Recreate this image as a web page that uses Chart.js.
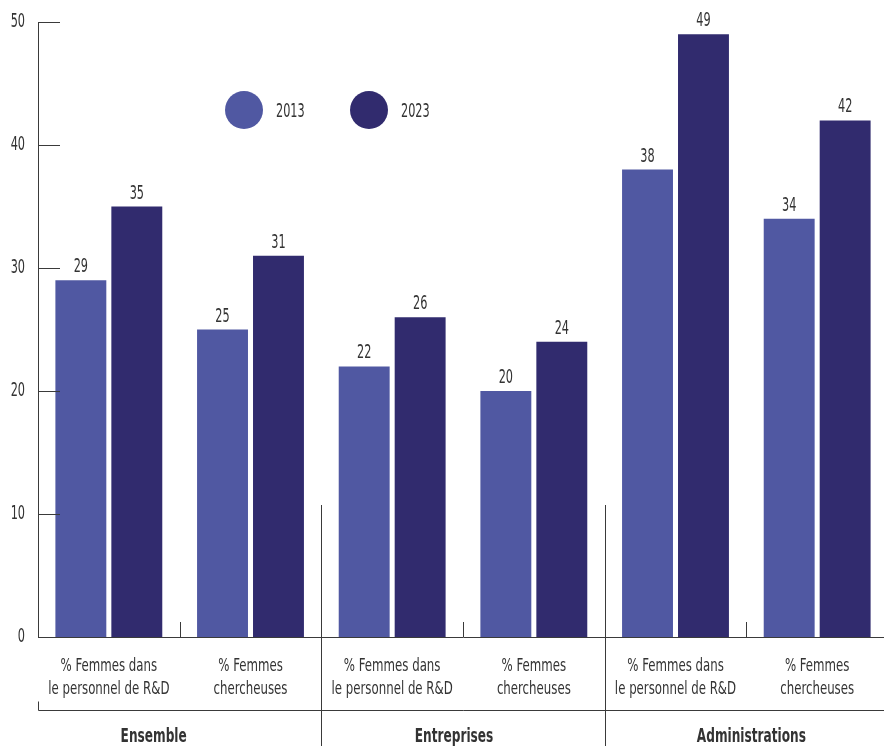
<!DOCTYPE html>
<html><head><meta charset="utf-8">
<script src="https://cdn.jsdelivr.net/npm/chart.js@4/dist/chart.umd.min.js"></script>
<style>html,body{margin:0;padding:0;background:#fff;overflow:hidden;width:884px;height:746px}#wrap{width:888px;height:746px;position:relative}</style>
</head><body><div id="wrap"><canvas id="c"></canvas></div>
<script>
const categories = [
  ["% Femmes dans","le personnel de R&D"],["% Femmes","chercheuses"],
  ["% Femmes dans","le personnel de R&D"],["% Femmes","chercheuses"],
  ["% Femmes dans","le personnel de R&D"],["% Femmes","chercheuses"]
];
const groups = ["Ensemble","Entreprises","Administrations"];
const seriesNames = ["2013","2023"];
const values2013 = [29,25,22,20,38,34];
const values2023 = [35,31,26,24,49,42];
const yTicks = [0,10,20,30,40,50];

const FONT = "'DejaVu Sans Condensed','DejaVu Sans',sans-serif";
const TXT = '#333';
const LINE = '#3a3a3a';
const colors = ['#5058a2','#312b6e'];
const groupLabelShift = [-26, -9, 5];

// condensed rendering of canvas text (the original uses a narrow DIN-like face)
function condense(ctx){
  if (ctx.__condensed) return;
  ctx.__condensed = true;
  const orig = ctx.fillText;
  ctx.fillText = function(t, x, y, mw){
    const s = String(t);
    let sx = 0.77;
    if (/^\d+$/.test(s)) sx = 0.66;
    else if (/bold/.test(this.font)) sx = 0.71;
    this.save();
    this.translate(x, y);
    this.scale(sx, 1);
    if (mw === undefined) orig.call(this, s, 0, 0); else orig.call(this, s, 0, 0, mw / sx);
    this.restore();
  };
}

const decor = {
  id:'decor',
  beforeDraw(chart){ condense(chart.ctx); },
  afterDraw(chart){
    const ctx = chart.ctx, x = chart.scales.x, y = chart.scales.y, ca = chart.chartArea;
    const H = chart.height, W = chart.width;
    ctx.save();
    ctx.strokeStyle = LINE; ctx.lineWidth = 1;
    // inward y ticks
    yTicks.forEach(v=>{
      const py = Math.round(y.getPixelForValue(v))+0.5;
      ctx.beginPath(); ctx.moveTo(ca.left, py); ctx.lineTo(ca.left+22, py); ctx.stroke();
    });
    const bound = i => (x.getPixelForValue(i)+x.getPixelForValue(i+1))/2;
    // small ticks within group
    for (let g=0; g<groups.length; g++){
      const px = Math.round(bound(g*2))+0.5;
      ctx.beginPath(); ctx.moveTo(px, ca.bottom-15); ctx.lineTo(px, ca.bottom); ctx.stroke();
    }
    // group separators
    for (let g=1; g<groups.length; g++){
      const px = Math.round(bound(g*2-1))+0.5;
      ctx.beginPath(); ctx.moveTo(px, ca.bottom-132); ctx.lineTo(px, H); ctx.stroke();
    }
    // lower line
    const ly = ca.bottom + 73.5;
    ctx.beginPath(); ctx.moveTo(ca.left+0.5, ly-9); ctx.lineTo(ca.left+0.5, ly); ctx.lineTo(W, ly); ctx.stroke();
    // group labels
    ctx.fillStyle = TXT; ctx.textAlign='center'; ctx.textBaseline='alphabetic';
    ctx.font = "bold 19px " + FONT;
    groups.forEach((g,i)=>{
      const cx = (x.getPixelForValue(i*2)+x.getPixelForValue(i*2+1))/2 + groupLabelShift[i];
      ctx.fillText(g, cx, ca.bottom+105);
    });
    // value labels
    ctx.font = "19px " + FONT; ctx.textBaseline='alphabetic';
    chart.data.datasets.forEach((ds,di)=>{
      const meta = chart.getDatasetMeta(di);
      meta.data.forEach((bar,i)=>{
        ctx.fillText(String(ds.data[i]), bar.x, bar.y-8);
      });
    });
    // legend
    const legX = [244, 369], legY = 110;
    ctx.font = "19px " + FONT; ctx.textAlign='left'; ctx.textBaseline='alphabetic';
    chart.data.datasets.forEach((ds,di)=>{
      ctx.fillStyle = ds.backgroundColor;
      ctx.beginPath(); ctx.arc(legX[di], legY, 19, 0, Math.PI*2); ctx.fill();
      ctx.fillStyle = TXT;
      ctx.fillText(ds.label, legX[di]+32, legY+7);
    });
    ctx.restore();
  }
};

new Chart(document.getElementById('c'), {
  type:'bar',
  data:{
    labels: categories,
    datasets:[
      {label: seriesNames[0], data: values2013, backgroundColor: colors[0]},
      {label: seriesNames[1], data: values2023, backgroundColor: colors[1]}
    ]
  },
  options:{
    responsive:true, maintainAspectRatio:false, animation:false,
    devicePixelRatio:1,
    layout:{padding:{top:0,right:0,left:0,bottom:0}},
    plugins:{legend:{display:false}, tooltip:{enabled:false}},
    datasets:{bar:{categoryPercentage:0.79, barPercentage:0.91}},
    scales:{
      x:{
        grid:{display:false, drawTicks:false},
        border:{display:true, color:LINE, width:1},
        ticks:{color:TXT, font:{family:FONT, size:17, lineHeight:1.3}, padding:19, maxRotation:0, autoSkip:false},
        afterFit(s){ s.height = 109; }
      },
      y:{
        min:0, max:50,
        grid:{display:false, drawTicks:false},
        border:{display:true, color:LINE, width:1},
        ticks:{stepSize:10, color:TXT, font:{family:FONT, size:19, lineHeight:0.95}, padding:13},
        afterFit(s){ s.width = 38; }
      }
    }
  },
  plugins:[decor]
});
</script></body></html>
